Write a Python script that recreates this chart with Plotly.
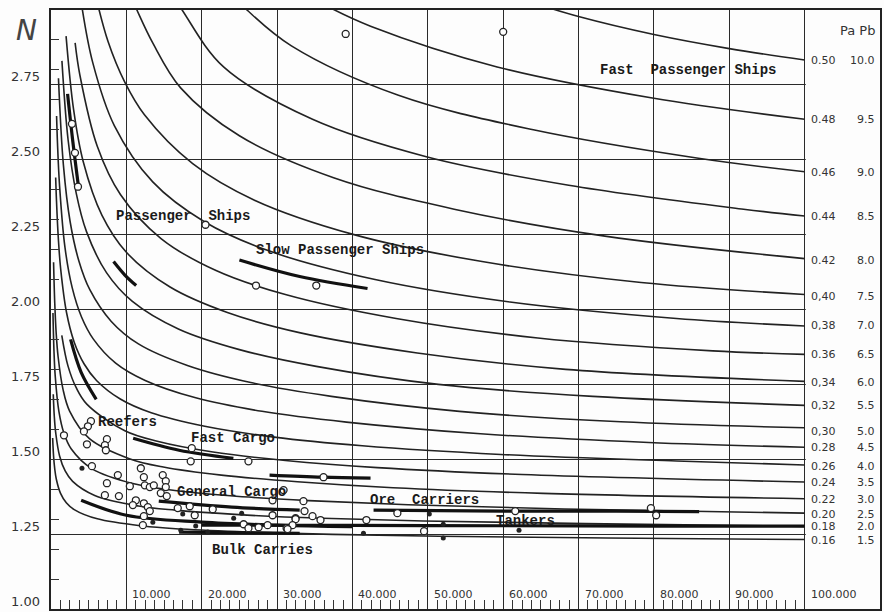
import plotly.graph_objects as go

# curve family, one per Pa / Pb pair; x = deadweight in thousands, n = N
pa16_x = [0.22, 0.34, 0.50, 0.70, 1.25, 2.03, 3.08, 6.15, 12.2, 17.3, 26.1, 37.3, 51.5, 73.7, 100]
pa16_n = [1.571, 1.511, 1.467, 1.434, 1.387, 1.355, 1.332, 1.301, 1.277, 1.267, 1.257, 1.249, 1.243, 1.237, 1.232]
pa18_x = [0.30, 0.44, 0.63, 1.14, 1.88, 2.87, 5.80, 11.6, 16.5, 24.9, 35.8, 49.4, 70.9, 100]
pa18_n = [1.717, 1.642, 1.587, 1.511, 1.461, 1.426, 1.379, 1.344, 1.330, 1.315, 1.303, 1.294, 1.285, 1.276]
pa20_x = [0.26, 0.39, 0.56, 1.04, 1.73, 2.67, 5.45, 11.0, 15.7, 23.8, 34.2, 47.4, 68.1, 100]
pa20_n = [1.988, 1.865, 1.778, 1.661, 1.586, 1.535, 1.468, 1.418, 1.398, 1.378, 1.362, 1.348, 1.334, 1.320]
pa22_x = [0.34, 0.50, 0.69, 0.94, 1.58, 2.47, 5.10, 10.4, 14.9, 22.6, 32.7, 45.4, 65.3, 100]
pa22_n = [2.158, 2.020, 1.920, 1.843, 1.735, 1.661, 1.569, 1.502, 1.474, 1.447, 1.425, 1.405, 1.386, 1.368]
pa24_x = [1.43, 2.26, 3.36, 4.75, 9.80, 14.1, 21.5, 31.1, 43.3, 62.5, 100]
pa24_n = [1.914, 1.811, 1.738, 1.684, 1.595, 1.560, 1.524, 1.496, 1.472, 1.449, 1.424]
pa26_x = [0.62, 0.73, 0.98, 1.29, 2.06, 3.08, 4.40, 6.04, 9.19, 13.3, 20.4, 29.6, 41.3, 59.7, 83.0, 100]
pa26_n = [2.441, 2.362, 2.234, 2.134, 1.990, 1.891, 1.818, 1.763, 1.701, 1.655, 1.610, 1.574, 1.545, 1.516, 1.494, 1.481]
pa28_x = [0.74, 0.86, 1.14, 1.85, 2.81, 4.05, 5.60, 8.58, 12.5, 19.2, 28.0, 39.2, 57.0, 79.3, 100]
pa28_n = [2.646, 2.556, 2.412, 2.208, 2.073, 1.975, 1.902, 1.821, 1.763, 1.705, 1.660, 1.624, 1.585, 1.556, 1.540]
pa30_x = [0.99, 1.65, 2.54, 3.70, 5.15, 7.97, 11.6, 18.1, 26.5, 37.2, 54.2, 75.6, 100]
pa30_n = [2.772, 2.481, 2.293, 2.162, 2.066, 1.961, 1.885, 1.813, 1.756, 1.710, 1.660, 1.625, 1.605]
pa32_x = [1.45, 2.27, 3.35, 4.71, 7.36, 10.8, 16.9, 25.0, 35.2, 51.4, 71.9, 100]
pa32_n = [2.830, 2.566, 2.388, 2.260, 2.123, 2.027, 1.935, 1.866, 1.810, 1.750, 1.710, 1.680]
pa34_x = [2.00, 3.00, 4.27, 6.75, 10.0, 15.8, 23.4, 33.1, 48.6, 68.3, 100]
pa34_n = [2.913, 2.667, 2.494, 2.315, 2.191, 2.075, 1.990, 1.922, 1.855, 1.800, 1.760]
pa36_x = [3.20, 3.83, 6.14, 9.21, 14.6, 21.9, 31.1, 45.8, 64.6, 87.8, 100]
pa36_n = [2.890, 2.783, 2.545, 2.384, 2.237, 2.130, 2.050, 1.970, 1.905, 1.862, 1.850]
pa38_x = [3.38, 4.03, 5.53, 8.40, 13.5, 20.3, 29.0, 43.0, 60.9, 83.0, 100]
pa38_n = [3.148, 3.022, 2.825, 2.614, 2.426, 2.294, 2.195, 2.100, 2.025, 1.970, 1.945]
pa40_x = [5.73, 7.58, 9.79, 12.4, 18.8, 27.0, 40.2, 57.2, 78.3, 100]
pa40_n = [3.067, 2.894, 2.759, 2.650, 2.487, 2.365, 2.250, 2.160, 2.090, 2.050]
pa42_x = [10.2, 11.4, 13.5, 17.2, 25.0, 37.5, 53.5, 73.5, 100]
pa42_n = [3.070, 3.000, 2.890, 2.740, 2.580, 2.440, 2.335, 2.245, 2.170]
pa44_x = [15.2, 17.4, 22.9, 34.7, 49.8, 68.7, 91.9, 100]
pa44_n = [3.090, 3.000, 2.810, 2.635, 2.510, 2.415, 2.335, 2.312]
pa46_x = [22.5, 26.0, 31.9, 46.1, 64.0, 85.9, 100]
pa46_n = [3.090, 3.000, 2.880, 2.715, 2.600, 2.505, 2.460]
pa48_x = [31.5, 36.7, 42.4, 59.2, 79.8, 100]
pa48_n = [3.088, 3.012, 2.946, 2.810, 2.706, 2.635]
pa50_x = [60, 65, 70, 80, 90, 100]
pa50_n = [3.059, 3.016, 2.978, 2.918, 2.871, 2.833]

# right-hand scale
pa_text = ["0.50", "0.48", "0.46", "0.44", "0.42", "0,40", "0,38", "0.36", "0,34",
           "0,32", "0,30", "0.28", "0.26", "0.24", "0.22", "0.20", "0.18", "0.16"]
pb_text = ["10.0", "9.5", "9.0", "8.5", "8.0", "7.5", "7.0", "6.5", "6.0",
           "5.5", "5.0", "4.5", "4.0", "3.5", "3.0", "2.5", "2.0", "1.5"]
label_n = [2.833, 2.633, 2.456, 2.309, 2.165, 2.042, 1.945, 1.851, 1.755,
           1.678, 1.594, 1.538, 1.477, 1.421, 1.364, 1.314, 1.277, 1.230]

# heavy bands drawn through the ship groups
band_pass1_x, band_pass1_n = [2.2, 2.9, 3.7], [2.72, 2.56, 2.40]
band_pass2_x, band_pass2_n = [8.3, 9.8, 11.3], [2.16, 2.115, 2.08]
band_slow_x, band_slow_n = [25, 33, 42], [2.165, 2.11, 2.07]
band_reef_x, band_reef_n = [2.6, 4.0, 6.0], [1.90, 1.79, 1.70]
band_fast_x, band_fast_n = [10.9, 17, 24.2], [1.57, 1.53, 1.503]
band_gen1_x, band_gen1_n = [4, 10, 20, 30, 40], [1.363, 1.313, 1.29, 1.28, 1.275]
band_gen2_x, band_gen2_n = [14.3, 24, 33], [1.36, 1.34, 1.33]
band_ore1_x, band_ore1_n = [29, 36, 42.4], [1.447, 1.44, 1.437]
band_ore2_x, band_ore2_n = [42.8, 60, 75, 86], [1.33, 1.327, 1.327, 1.325]
band_tank_x, band_tank_n = [20, 40, 60, 80, 100], [1.28, 1.279, 1.278, 1.277, 1.277]
band_bulk_x, band_bulk_n = [17, 25, 33], [1.257, 1.255, 1.253]

# individual ships
open_x = [39.1, 60.0, 2.78, 3.18, 3.58, 20.5, 27.2, 35.2, 5.30, 4.90, 4.37, 4.77, 7.42, 7.15,
          7.28, 1.72, 5.43, 8.87, 7.42, 7.15, 9.01, 10.46, 11.92, 12.32, 12.45, 13.11, 13.64,
          14.83, 15.23, 15.23, 14.57, 15.36, 11.26, 10.86, 12.32, 12.85, 13.11, 12.32, 12.19,
          16.82, 18.41, 19.07, 18.68, 18.54, 26.2, 21.46, 25.56, 26.2, 27.55, 28.74, 29.4,
          29.4, 31.26, 32.45, 36.16, 30.86, 33.5, 33.64, 34.7, 35.76, 32.45, 32.05, 31.39,
          41.85, 45.96, 61.6, 79.6, 80.3, 49.5]
open_n = [2.92, 2.927, 2.62, 2.523, 2.41, 2.283, 2.08, 2.08, 1.627, 1.61, 1.593, 1.55, 1.567,
          1.547, 1.53, 1.58, 1.477, 1.447, 1.42, 1.38, 1.377, 1.41, 1.47, 1.44, 1.413, 1.407,
          1.413, 1.447, 1.427, 1.407, 1.387, 1.377, 1.363, 1.347, 1.353, 1.34, 1.327, 1.31,
          1.28, 1.337, 1.343, 1.313, 1.537, 1.493, 1.493, 1.333, 1.283, 1.27, 1.273, 1.28,
          1.363, 1.313, 1.27, 1.303, 1.44, 1.397, 1.36, 1.327, 1.31, 1.297, 1.30, 1.28, 1.267,
          1.297, 1.32, 1.327, 1.337, 1.313, 1.26]
filled_x = [4.11, 13.51, 17.48, 19.2, 17.22, 20.8, 24.24, 25.3, 50.2, 52.05, 52.05, 41.46, 62.1]
filled_n = [1.47, 1.29, 1.317, 1.277, 1.263, 1.257, 1.303, 1.32, 1.317, 1.283, 1.237, 1.253, 1.263]

# ship group names
group_text = ["Fast  Passenger Ships", "Passenger  Ships", "Slow Passenger Ships", "Reefers",
              "Fast Cargo", "General Cargo", "Ore  Carriers", "Tankers", "Bulk Carries"]
group_x = [84.5, 17.5, 38.3, 10.1, 24.2, 23.9, 49.6, 62.9, 28.0]
group_n = [2.80, 2.312, 2.199, 1.624, 1.571, 1.391, 1.364, 1.294, 1.197]

x_ticks = [10, 20, 30, 40, 50, 60, 70, 80, 90, 100]
x_tick_text = ["10.000", "20.000", "30.000", "40.000", "50.000",
               "60.000", "70.000", "80.000", "90.000", "100.000"]
y_ticks = [1.00, 1.25, 1.50, 1.75, 2.00, 2.25, 2.50, 2.75]
y_tick_text = ["1.00", "1.25", "1.50", "1.75", "2.00", "2.25", "2.50", "2.75"]

INK = "#222222"
PAPER = "#fdfdfd"

curves = [(pa16_x, pa16_n), (pa18_x, pa18_n), (pa20_x, pa20_n), (pa22_x, pa22_n),
          (pa24_x, pa24_n), (pa26_x, pa26_n), (pa28_x, pa28_n), (pa30_x, pa30_n),
          (pa32_x, pa32_n), (pa34_x, pa34_n), (pa36_x, pa36_n), (pa38_x, pa38_n),
          (pa40_x, pa40_n), (pa42_x, pa42_n), (pa44_x, pa44_n), (pa46_x, pa46_n),
          (pa48_x, pa48_n), (pa50_x, pa50_n)]
bands = [(band_pass1_x, band_pass1_n), (band_pass2_x, band_pass2_n), (band_slow_x, band_slow_n),
         (band_reef_x, band_reef_n), (band_fast_x, band_fast_n), (band_gen1_x, band_gen1_n),
         (band_gen2_x, band_gen2_n), (band_ore1_x, band_ore1_n), (band_ore2_x, band_ore2_n),
         (band_tank_x, band_tank_n), (band_bulk_x, band_bulk_n)]

fig = go.Figure()

for cx, cn in curves:
    fig.add_trace(go.Scatter(x=cx, y=cn, mode="lines",
                             line=dict(color=INK, width=1.6, shape="spline", smoothing=1.0),
                             hoverinfo="skip"))

for bx, bn in bands:
    fig.add_trace(go.Scatter(x=bx, y=bn, mode="lines",
                             line=dict(color="#111111", width=3.2, shape="spline"),
                             hoverinfo="skip"))

fig.add_trace(go.Scatter(x=open_x, y=open_n, mode="markers",
                         marker=dict(symbol="circle", size=7, color=PAPER,
                                     line=dict(color=INK, width=1.3))))
fig.add_trace(go.Scatter(x=filled_x, y=filled_n, mode="markers",
                         marker=dict(symbol="circle", size=5, color=INK)))

annotations = []
for t, gx, gn in zip(group_text, group_x, group_n):
    annotations.append(dict(x=gx, y=gn, text=f"<b>{t}</b>", showarrow=False,
                            font=dict(family="Liberation Mono", size=14, color="#1a1a1a")))

for t, v in zip(x_tick_text, x_ticks):
    annotations.append(dict(x=v, y=1.0, text=t, showarrow=False, xanchor="left", yanchor="bottom",
                            xshift=4, yshift=6,
                            font=dict(family="DejaVu Sans", size=11, color="#333333")))

for t, v in zip(y_tick_text, y_ticks):
    annotations.append(dict(x=0, xref="paper", y=v, text=t, showarrow=False, xanchor="right",
                            xshift=-9, yshift=8,
                            font=dict(family="DejaVu Sans", size=13, color="#333333")))

for a, b, n in zip(pa_text, pb_text, label_n):
    annotations.append(dict(x=100.6, y=n, text=a, showarrow=False, xanchor="left",
                            font=dict(family="DejaVu Sans", size=11, color="#333333")))
    annotations.append(dict(x=1, xref="paper", y=n, text=b, showarrow=False, xanchor="right",
                            xshift=-3, font=dict(family="DejaVu Sans", size=11, color="#333333")))

annotations.append(dict(x=1, xref="paper", y=2.933, text="Pa Pb", showarrow=False,
                        xanchor="right", xshift=-3,
                        font=dict(family="DejaVu Sans", size=13, color="#333333")))
annotations.append(dict(x=0, xref="paper", y=1, yref="paper", text="<i>N</i>", showarrow=False,
                        xanchor="right", yanchor="top", xshift=-12, yshift=-2,
                        font=dict(family="DejaVu Sans", size=28, color="#444444")))

fig.update_layout(
    width=884, height=612,
    margin=dict(l=51, r=4, t=10, b=3),
    paper_bgcolor=PAPER, plot_bgcolor=PAPER,
    showlegend=False,
    annotations=annotations,
    shapes=[
        dict(type="rect", xref="x", yref="y", x0=100.15, x1=110, y0=1, y1=3,
             fillcolor=PAPER, line=dict(width=0), layer="between"),
    ],
)

fig.update_xaxes(range=[0, 110], tickvals=x_ticks, showticklabels=False, ticks="",
                 showgrid=True, gridcolor="#2a2a2a", gridwidth=1.3, zeroline=False,
                 showline=True, mirror=True, linecolor=INK, linewidth=2,
                 minor=dict(tickvals=[i * 1.25 for i in range(1, 80) if i % 8],
                            ticks="inside", ticklen=9, tickcolor="#333333", tickwidth=1.2,
                            showgrid=False))
fig.update_yaxes(range=[1, 3], tickvals=y_ticks[1:], showticklabels=False, ticks="",
                 showgrid=True, gridcolor="#2a2a2a", gridwidth=1.3, zeroline=False,
                 showline=True, mirror=True, linecolor=INK, linewidth=2,
                 minor=dict(tickvals=[1 + i * 0.1 for i in range(1, 20)],
                            ticks="inside", ticklen=8, tickcolor="#333333", tickwidth=1.2,
                            showgrid=False))

# page body margin would push the 884x612 figure off the window
fig.write_html("out.html", config={"displayModeBar": False},
               post_script="document.body.style.margin='0';document.body.style.overflow='hidden';")
